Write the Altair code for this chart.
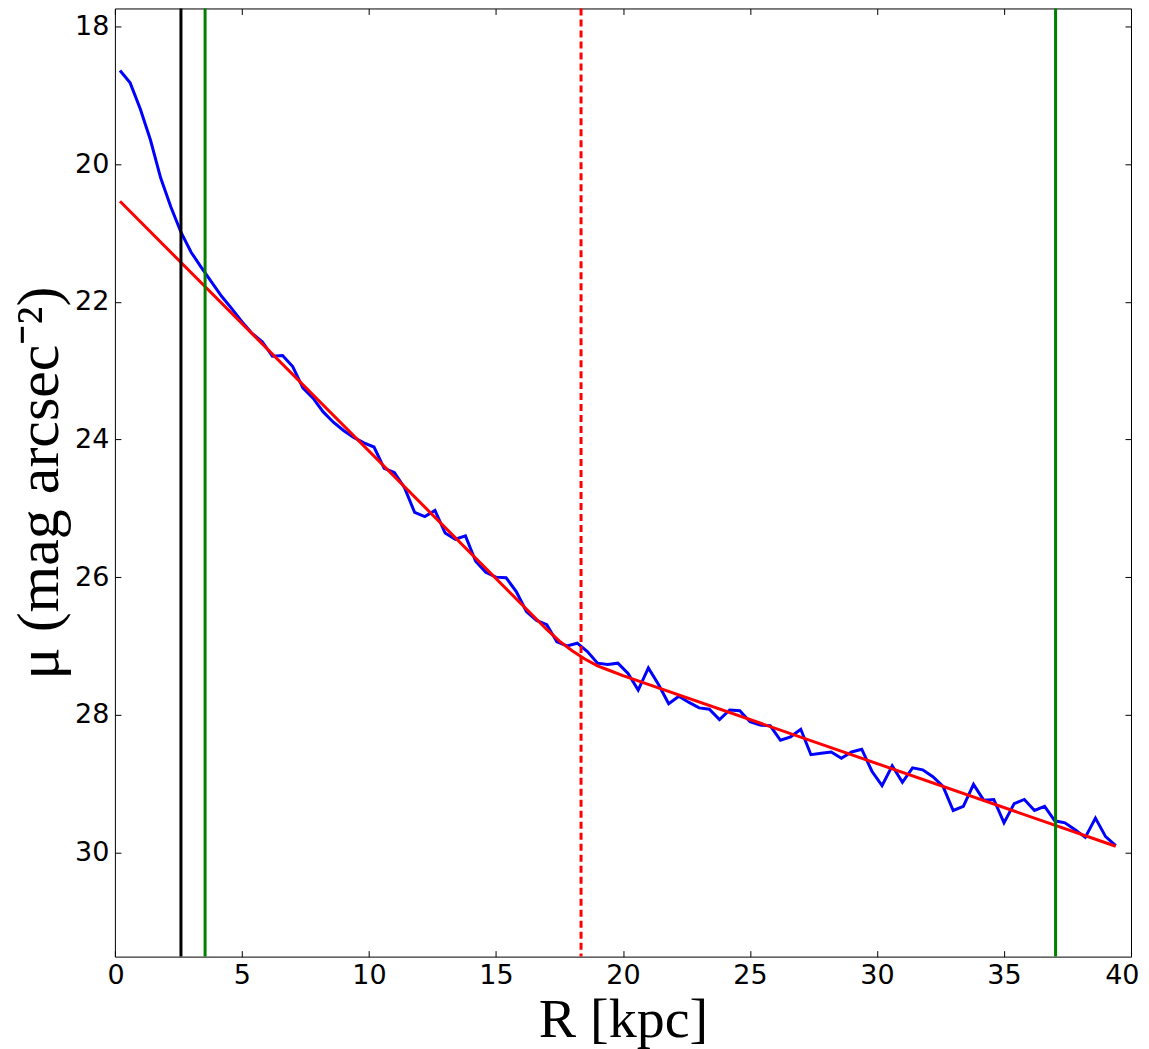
import altair as alt
import pandas as pd

# ---------------- data ----------------
R_KPC = [0.2, 0.6, 1.0, 1.4, 1.8, 2.2, 2.6, 3.0, 3.4, 3.8,
         4.2, 4.6, 5.0, 5.4, 5.8, 6.2, 6.6, 7.0, 7.4, 7.8,
         8.2, 8.6, 9.0, 9.4, 9.8, 10.2, 10.6, 11.0, 11.4, 11.8,
         12.2, 12.6, 13.0, 13.4, 13.8, 14.2, 14.6, 15.0, 15.4, 15.8,
         16.2, 16.6, 17.0, 17.4, 17.8, 18.2, 18.6, 19.0, 19.4, 19.8,
         20.2, 20.6, 21.0, 21.4, 21.8, 22.2, 22.6, 23.0, 23.4, 23.8,
         24.2, 24.6, 25.0, 25.4, 25.8, 26.2, 26.6, 27.0, 27.4, 27.8,
         28.2, 28.6, 29.0, 29.4, 29.8, 30.2, 30.6, 31.0, 31.4, 31.8,
         32.2, 32.6, 33.0, 33.4, 33.8, 34.2, 34.6, 35.0, 35.4, 35.8,
         36.2, 36.6, 37.0, 37.4, 37.8, 38.2, 38.6, 39.0, 39.4]
MU = [18.64, 18.82, 19.20, 19.65, 20.20, 20.62, 20.99, 21.28, 21.50, 21.71,
      21.92, 22.10, 22.29, 22.46, 22.58, 22.79, 22.78, 22.94, 23.25, 23.40,
      23.60, 23.75, 23.87, 23.97, 24.05, 24.11, 24.42, 24.48, 24.70, 25.06,
      25.12, 25.03, 25.36, 25.45, 25.40, 25.77, 25.93, 26.00, 26.01, 26.21,
      26.50, 26.63, 26.69, 26.94, 27.00, 26.96, 27.08, 27.25, 27.27, 27.25,
      27.40, 27.64, 27.32, 27.56, 27.84, 27.73, 27.82, 27.90, 27.92, 28.07,
      27.93, 27.94, 28.10, 28.15, 28.16, 28.37, 28.32, 28.21, 28.58, 28.56,
      28.54, 28.63, 28.54, 28.50, 28.82, 29.03, 28.74, 28.98, 28.77, 28.80,
      28.90, 29.04, 29.39, 29.33, 29.01, 29.24, 29.23, 29.57, 29.29, 29.23,
      29.39, 29.33, 29.54, 29.57, 29.67, 29.78, 29.50, 29.77, 29.90]

FIT_R = [0.2, 17.0, 17.5, 18.0, 18.5, 19.0, 19.5, 20.0, 39.4]
FIT_MU = [20.54, 26.76, 26.93, 27.07, 27.19, 27.29, 27.36, 27.43, 29.91]

VLINE_R = [2.6, 3.55, 37.03]
VLINE_KIND = ["black", "inner", "outer"]
BREAK_R = [18.35]

X_TICKS = [0, 5, 10, 15, 20, 25, 30, 35, 40]
Y_TICKS = [18, 20, 22, 24, 26, 28, 30]

# ---------------- chart ----------------
W, H = 1017, 949

df_prof = pd.DataFrame({"R": R_KPC, "mu": MU})
df_fit = pd.DataFrame({"R": FIT_R, "mu": FIT_MU})
df_v = pd.DataFrame({"R": VLINE_R, "kind": VLINE_KIND})
df_b = pd.DataFrame({"R": BREAK_R})

xs = alt.Scale(domain=[0, 40], nice=False, zero=False)
ys = alt.Scale(domain=[17.739, 31.513], reverse=True, nice=False, zero=False)

lab_font = dict(labelFont="DejaVu Sans", labelFontSize=27, labelColor="black",
                labelFontWeight="normal")

x_label_axis = alt.Axis(values=X_TICKS, orient="bottom", ticks=False, domain=False,
                        grid=False, labelPadding=6, labelFlush=True,
                        labelFlushOffset=8, labelOverlap=False,
                        titleFont="Liberation Serif",
                        titleFontSize=56, titleFontWeight="normal",
                        titleColor="black", titlePadding=4, **lab_font)
y_label_axis = alt.Axis(values=Y_TICKS, orient="left", ticks=False, domain=False,
                        grid=False, labelPadding=6, labelFlush=False,
                        labelOverlap=False, titleFont="Liberation Serif",
                        titleFontSize=60, titleFontWeight="normal",
                        titleColor="black", titlePadding=4, **lab_font)

tick_style = dict(labels=False, domain=False, grid=False, ticks=True,
                  tickSize=6, tickColor="black", tickWidth=1)
x_bottom_in = alt.Axis(orient="top", offset=-H, values=X_TICKS, **tick_style)
x_top_in = alt.Axis(orient="bottom", offset=-H, values=X_TICKS, **tick_style)
y_left_in = alt.Axis(orient="right", offset=-W, values=Y_TICKS, **tick_style)
y_right_in = alt.Axis(orient="left", offset=-W, values=Y_TICKS, **tick_style)

profile = alt.Chart(df_prof).mark_line(color="#0000ff", strokeWidth=3).encode(
    x=alt.X("R:Q", scale=xs, axis=x_label_axis, title="R [kpc]"),
    y=alt.Y("mu:Q", scale=ys, axis=y_label_axis, title="μ (mag arcsec⁻²)"),
)

fit = alt.Chart(df_fit).mark_line(color="#ff0000", strokeWidth=3).encode(
    x=alt.X("R:Q", scale=xs, axis=x_bottom_in, title=""),
    y=alt.Y("mu:Q", scale=ys, axis=y_left_in, title=""),
)

vlines = alt.Chart(df_v).mark_rule(strokeWidth=3).encode(
    x=alt.X("R:Q", scale=xs, axis=None),
    color=alt.Color("kind:N",
                    scale=alt.Scale(domain=["black", "inner", "outer"],
                                    range=["#000000", "#008000", "#008000"]),
                    legend=None),
)

brk = alt.Chart(df_b).mark_rule(color="#ff0000", strokeWidth=3,
                                strokeDash=[7, 4]).encode(
    x=alt.X("R:Q", scale=xs, axis=None),
)

helper = alt.Chart(df_prof).mark_point(opacity=0).encode(
    x=alt.X("R:Q", scale=xs, axis=x_top_in, title=""),
    y=alt.Y("mu:Q", scale=ys, axis=y_right_in, title=""),
)

chart = alt.layer(profile, fit, vlines, brk, helper).resolve_axis(
    x="independent", y="independent"
).properties(
    width=W, height=H,
    autosize=alt.AutoSizeParams(type="none"),
    padding={"left": 107, "top": 0, "right": 10, "bottom": 92},
    background="white",
).configure_view(stroke="black", strokeWidth=1)

chart.save("out.html", embed_options={"renderer": "svg", "actions": False})
